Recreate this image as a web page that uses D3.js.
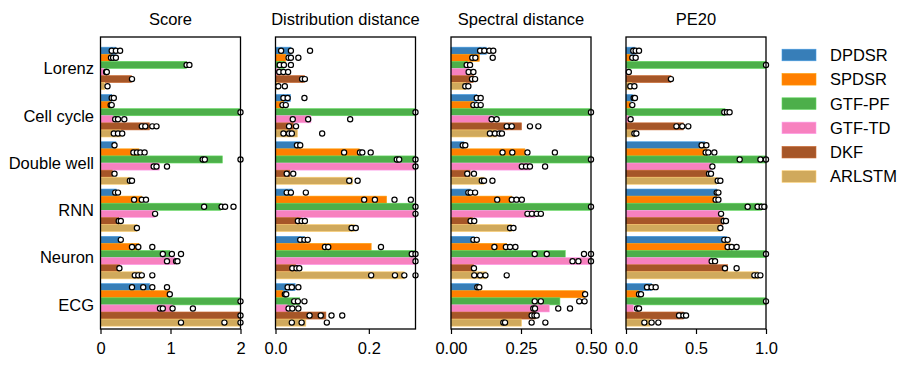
<!DOCTYPE html>
<html>
<head>
<meta charset="utf-8">
<script src="https://cdn.jsdelivr.net/npm/d3@7"></script>
<style>
  body { margin: 0; background: #fff; }
  svg text { font-family: "Liberation Sans", Arial, sans-serif; fill: #000; }
</style>
</head>
<body>
<svg id="chart" width="913" height="366"></svg>
<script>
const categories = ["Lorenz", "Cell cycle", "Double well", "RNN", "Neuron", "ECG"]
const methods = ["DPDSR", "SPDSR", "GTF-PF", "GTF-TD", "DKF", "ARLSTM"]
const colors = ["#377eb8", "#ff7f00", "#4daf4a", "#f781bf", "#a65628", "#d0a95c"]

// bar values, [category][method]
const scoreBars = [
  [0.22, 0.14, 1.23, 0.05, 0.44, 0.06],
  [0.16, 0.14, 2.0, 0.18, 0.70, 0.29],
  [0.22, 0.55, 1.74, 0.84, 0.17, 0.41],
  [0.23, 0.59, 1.72, 0.78, 0.26, 0.52],
  [0.29, 0.55, 0.99, 1.06, 0.27, 0.59],
  [0.70, 0.99, 2.0, 1.03, 2.0, 2.0]
]
const scoreRuns = [
  [[0.16,0.22,0.28],[0.15,0.18,0.22],[1.23,1.27],[0.08,0.09],[0.45],[0.1]],
  [[0.16,0.19],[0.145,0.16],[2.0],[0.21,0.25,0.34],[0.59,0.64,0.74,0.80],[0.19,0.25,0.31]],
  [[0.2],[0.47,0.52,0.57,0.63],[1.46,1.49,2.0],[0.76,0.8,0.95],[0.2],[0.42,0.45]],
  [[0.21,0.25],[0.48,0.59,0.65],[1.48,1.73,1.78,1.9],[0.78],[0.26,0.29],[0.52]],
  [[0.29],[0.45,0.54,0.74],[0.89,1.02,1.15],[0.95,1.08,1.1],[0.27],[0.49,0.54,0.59,0.74]],
  [[0.45,0.61,0.74,0.95],[0.99],[2.0],[0.85,0.89,1.03,1.32],[2.0],[1.15,1.77,2.0]]
]

const distBars = [
  [0.033, 0.022, 0.019, 0.006, 0.062, 0.005],
  [0.032, 0.017, 0.3, 0.076, 0.038, 0.047],
  [0.053, 0.18, 0.3, 0.3, 0.031, 0.165],
  [0.036, 0.238, 0.3, 0.3, 0.053, 0.169],
  [0.062, 0.205, 0.3, 0.3, 0.043, 0.276],
  [0.042, 0.015, 0.052, 0.026, 0.108, 0.065]
]
const distRuns = [
  [[0.012,0.033,0.074],[0.028,0.033,0.049],[0.009,0.018,0.033],[0.008,0.017,0.027],[0.057,0.063],[0.006,0.02]],
  [[0.017,0.026,0.062],[0.015,0.022],[0.3],[0.037,0.07,0.16],[0.029,0.044],[0.017,0.029,0.035,0.1]],
  [[0.046,0.053],[0.147,0.181,0.186,0.204],[0.26,0.265,0.3],[0.3],[0.024,0.038],[0.158,0.176]],
  [[0.024,0.033,0.065],[0.19,0.213,0.255,0.29],[0.3],[0.3],[0.048,0.056,0.063],[0.163,0.172]],
  [[0.053,0.062,0.069],[0.106,0.113,0.226],[0.292,0.3],[0.3],[0.036,0.045,0.051],[0.205,0.256,0.276,0.3]],
  [[0.026,0.035,0.049],[0.02,0.023],[0.04,0.048,0.062],[0.028,0.036,0.049],[0.073,0.097,0.12,0.143],[0.035,0.056,0.11]]
]

const specBars = [
  [0.127, 0.101, 0.058, 0.063, 0.08, 0.051],
  [0.092, 0.08, 0.5, 0.151, 0.252, 0.163],
  [0.046, 0.264, 0.5, 0.282, 0.068, 0.118],
  [0.07, 0.217, 0.5, 0.3, 0.077, 0.217],
  [0.083, 0.199, 0.408, 0.5, 0.08, 0.127],
  [0.098, 0.479, 0.389, 0.351, 0.301, 0.252]
]
const specRuns = [
  [[0.104,0.119,0.137,0.151],[0.076,0.087,0.149],[0.056,0.068],[0.063,0.08],[0.075,0.086],[0.051,0.062]],
  [[0.092,0.106],[0.08,0.092,0.106],[0.5],[0.145,0.163],[0.199,0.217,0.282,0.312],[0.139,0.157,0.173,0.182]],
  [[0.042,0.051],[0.184,0.219,0.273,0.371],[0.5],[0.253,0.268,0.282,0.336],[0.058,0.082],[0.11,0.118,0.148]],
  [[0.062,0.07,0.086],[0.165,0.217,0.234,0.253],[0.5],[0.273,0.289,0.306,0.321],[0.07,0.083],[0.211,0.223]],
  [[0.08,0.092],[0.155,0.196,0.211,0.23],[0.299,0.342,0.475,0.5],[0.434,0.455,0.5],[0.082],[0.083,0.104,0.123,0.199]],
  [[0.094,0.101],[0.479],[0.299,0.321,0.458,0.477],[0.294,0.3,0.383,0.425],[0.288,0.298,0.306],[0.187,0.193,0.288,0.337]]
]

const peBars = [
  [0.064, 0.029, 1.0, 0.007, 0.321, 0.04],
  [0.045, 0.029, 0.707, 0.017, 0.41, 0.064],
  [0.564, 0.576, 1.0, 0.607, 0.583, 0.648],
  [0.648, 0.648, 0.969, 0.671, 0.695, 0.671],
  [0.719, 0.743, 1.0, 0.6, 0.726, 0.945],
  [0.183, 0.088, 1.0, 0.052, 0.41, 0.171]
]
const peRuns = [
  [[0.052,0.069,0.093],[0.045,0.069],[1.0],[0.02],[0.321],[0.031,0.06]],
  [[0.055,0.064],[0.045],[0.702,0.721,0.74],[0.033],[0.36,0.402,0.445],[0.06,0.074]],
  [[0.54,0.574],[0.569,0.588,0.631],[0.812,0.96,1.0],[0.617],[0.593,0.607],[0.655,0.674]],
  [[0.648,0.66],[0.64,0.66],[0.869,0.94,0.969,0.988],[0.679],[0.698,0.714],[0.674]],
  [[0.702,0.726],[0.726,0.755,0.79],[1.0],[0.612,0.636],[0.707,0.79],[0.917,0.94,0.96]],
  [[0.15,0.183,0.212],[0.093,0.107],[1.0],[0.079,0.093],[0.379,0.41,0.429],[0.131,0.183,0.231]]
]

const titles = ["Score", "Distribution distance", "Spectral distance", "PE20"]
const maxes = [2, 0.3, 0.5, 1]
const tickVals = [[0, 1, 2], [0, 0.2], [0, 0.25, 0.5], [0, 0.5, 1]]
const tickFmts = ["d", ".1f", ".2f", ".1f"]

const panels = titles.map((t, i) => ({
  title: t, max: maxes[i], ticks: tickVals[i], fmt: d3.format(tickFmts[i]),
  bars: [scoreBars, distBars, specBars, peBars][i],
  runs: [scoreRuns, distRuns, specRuns, peRuns][i]
}))

const svg = d3.select("#chart")
const lefts = [100.5, 275.5, 451, 626]
const pw = 140, plotTop = 37, plotBottom = 329
const barH = 0.15

// group index units -> pixels
var y = d3.scaleLinear().domain([-0.665, 5.51]).range([plotTop, plotBottom])

panels.forEach((p, pi) => {
  var x = d3.scaleLinear().domain([0, p.max]).range([lefts[pi], lefts[pi] + pw]).clamp(true)
  var g = svg.append("g")

  categories.forEach((c, ci) => {
    methods.forEach((m, mi) => {
      var yc = ci + (mi - 2.5) * barH
      g.append("rect")
        .attr("x", x(0))
        .attr("y", y(yc - barH / 2))
        .attr("width", x(p.bars[ci][mi]) - x(0))
        .attr("height", y(yc + barH / 2) - y(yc - barH / 2))
        .attr("fill", colors[mi])
        .attr("stroke", d3.color(colors[mi]).brighter(0.6))
        .attr("stroke-width", 0.6)
    })
  })

  // individual runs
  categories.forEach((c, ci) => {
    methods.forEach((m, mi) => {
      var yc = ci + (mi - 2.5) * barH
      g.selectAll(null)
        .data(p.runs[ci][mi])
        .enter()
        .append("circle")
        .attr("cx", d => x(d))
        .attr("cy", y(yc))
        .attr("r", 2.6)
        .attr("fill", "#fff")
        .attr("stroke", "#000")
        .attr("stroke-width", 1.2)
    })
  })

  // frame
  g.append("rect")
    .attr("x", lefts[pi]).attr("y", plotTop)
    .attr("width", pw).attr("height", plotBottom - plotTop)
    .attr("fill", "none").attr("stroke", "#000").attr("stroke-width", 1.3)

  var xAxis = d3.axisBottom(x).tickValues(p.ticks).tickFormat(p.fmt).tickSize(5).tickPadding(8)
  var ax = g.append("g").attr("transform", `translate(0,${plotBottom})`).call(xAxis)
  ax.select(".domain").remove()
  ax.selectAll(".tick line").attr("stroke-width", 1.2)
  ax.selectAll("text").attr("font-size", 16.5).attr("font-family", "Liberation Sans, Arial, sans-serif")

  g.append("text")
    .attr("x", lefts[pi] + pw / 2).attr("y", 25)
    .attr("text-anchor", "middle")
    .attr("font-size", 16.5)
    .text(p.title)

  if (pi == 0) {
    g.selectAll(".ylab")
      .data(categories)
      .enter()
      .append("text")
      .attr("x", 94)
      .attr("y", (d, i) => y(i))
      .attr("dy", "0.35em")
      .attr("text-anchor", "end")
      .attr("font-size", 16.5)
      .text(d => d)
  }
})

// legend
var leg = svg.append("g")
methods.forEach((m, i) => {
  var cy = 55 + i * 24.3
  leg.append("rect")
    .attr("x", 782).attr("y", cy - 5.8)
    .attr("width", 34).attr("height", 11.6)
    .attr("fill", colors[i])
    .attr("stroke", d3.color(colors[i]).brighter(0.6))
    .attr("stroke-width", 0.6)
  leg.append("text")
    .attr("x", 830).attr("y", cy)
    .attr("dy", "0.36em")
    .attr("font-size", 16.5)
    .text(m)
})
</script>
</body>
</html>
